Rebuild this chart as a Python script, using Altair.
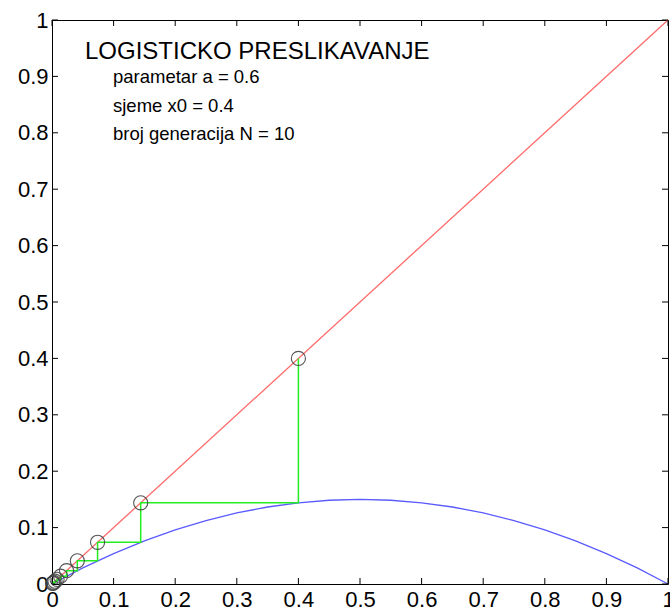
import altair as alt
import pandas as pd

# Logistic map x(n+1) = a*x(n)*(1-x(n)), a = 0.6, x0 = 0.4
iterates = [0.4, 0.144, 0.0740, 0.0411, 0.0236, 0.0139, 0.0082, 0.0049, 0.0029, 0.0017, 0.0010]

# map curve f(x) = 0.6 x (1 - x)
curve_x = [0.0, 0.05, 0.1, 0.15, 0.2, 0.25, 0.3, 0.35, 0.4, 0.45, 0.5,
           0.55, 0.6, 0.65, 0.7, 0.75, 0.8, 0.85, 0.9, 0.95, 1.0]
curve_y = [0.0, 0.0285, 0.054, 0.0765, 0.096, 0.1125, 0.126, 0.1365, 0.144, 0.1485, 0.15,
           0.1485, 0.144, 0.1365, 0.126, 0.1125, 0.096, 0.0765, 0.054, 0.0285, 0.0]

diag_x = [0.0, 1.0]
diag_y = [0.0, 1.0]

tick_values = [0.0, 0.1, 0.2, 0.3, 0.4, 0.5, 0.6, 0.7, 0.8, 0.9, 1.0]

title_text = "LOGISTICKO PRESLIKAVANJE"
info_lines = ["parametar a = 0.6", "sjeme x0 = 0.4", "broj generacija N = 10"]

W, H = 616, 564
FONT = "Liberation Sans"

# cobweb path: vertical drop to the curve, then across to the diagonal
web_x, web_y = [], []
for i in range(len(iterates) - 1):
    web_x += [iterates[i], iterates[i]]
    web_y += [iterates[i], iterates[i + 1]]
web_x.append(iterates[-1])
web_y.append(iterates[-1])
web = pd.DataFrame({"x": web_x, "y": web_y, "k": range(len(web_x))})

sx = alt.Scale(domain=[0, 1], nice=False, zero=False)
sy = alt.Scale(domain=[0, 1], nice=False, zero=False)

ax_x = alt.Axis(values=tick_values, format="~g", ticks=False, domain=False, grid=False,
                title=None, labelFont=FONT, labelFontSize=22, labelColor="black",
                labelPadding=5, labelFlush=False, labelOverlap=False)
ax_y = alt.Axis(values=tick_values, format="~g", ticks=False, domain=False, grid=False,
                title=None, labelFont=FONT, labelFontSize=22, labelColor="black",
                labelPadding=4, labelFlush=False, labelOverlap=False)

diag = alt.Chart(pd.DataFrame({"x": diag_x, "y": diag_y})).mark_line(
    color="#ff6a6a", strokeWidth=1.3
).encode(
    x=alt.X("x:Q", scale=sx, axis=ax_x),
    y=alt.Y("y:Q", scale=sy, axis=ax_y),
)

curve = alt.Chart(pd.DataFrame({"x": curve_x, "y": curve_y})).mark_line(
    color="#5a5aff", strokeWidth=1.3
).encode(x=alt.X("x:Q", scale=sx), y=alt.Y("y:Q", scale=sy))

cobweb = alt.Chart(web).mark_line(color="#22ee22", strokeWidth=1.5).encode(
    x=alt.X("x:Q", scale=sx), y=alt.Y("y:Q", scale=sy), order="k:Q"
)

circles = alt.Chart(pd.DataFrame({"x": iterates, "y": iterates})).mark_point(
    shape="circle", filled=False, size=200, color="#444444", strokeWidth=1.1, opacity=0.9
).encode(x=alt.X("x:Q", scale=sx), y=alt.Y("y:Q", scale=sy))

ticks_df = pd.DataFrame({"v": tick_values})
tick_style = dict(color="black", strokeWidth=1)
tb = alt.Chart(ticks_df).mark_rule(**tick_style).encode(
    x=alt.X("v:Q", scale=sx), y=alt.value(H), y2=alt.value(H - 6))
tt = alt.Chart(ticks_df).mark_rule(**tick_style).encode(
    x=alt.X("v:Q", scale=sx), y=alt.value(0), y2=alt.value(6))
tl = alt.Chart(ticks_df).mark_rule(**tick_style).encode(
    y=alt.Y("v:Q", scale=sy), x=alt.value(0), x2=alt.value(6))
tr = alt.Chart(ticks_df).mark_rule(**tick_style).encode(
    y=alt.Y("v:Q", scale=sy), x=alt.value(W), x2=alt.value(W - 6))

title_mark = alt.Chart(pd.DataFrame({"t": [title_text]})).mark_text(
    align="left", baseline="alphabetic", font=FONT, fontSize=24, color="black"
).encode(text="t:N", x=alt.value(33), y=alt.value(38.5))

info_marks = []
for line, yy in zip(info_lines, [63, 91.5, 120]):
    info_marks.append(
        alt.Chart(pd.DataFrame({"t": [line]})).mark_text(
            align="left", baseline="alphabetic", font=FONT, fontSize=18.5, color="black"
        ).encode(text="t:N", x=alt.value(61), y=alt.value(yy))
    )

chart = alt.layer(
    diag, curve, cobweb, circles, tb, tt, tl, tr, title_mark, *info_marks
).properties(
    width=W, height=H,
    autosize=alt.AutoSizeParams(type="none"),
    padding={"left": 52, "top": 20, "right": 2, "bottom": 28},
    background="white",
).configure_view(stroke="black", strokeWidth=1)

chart.save("out.html", embed_options={"renderer": "svg", "actions": False})
